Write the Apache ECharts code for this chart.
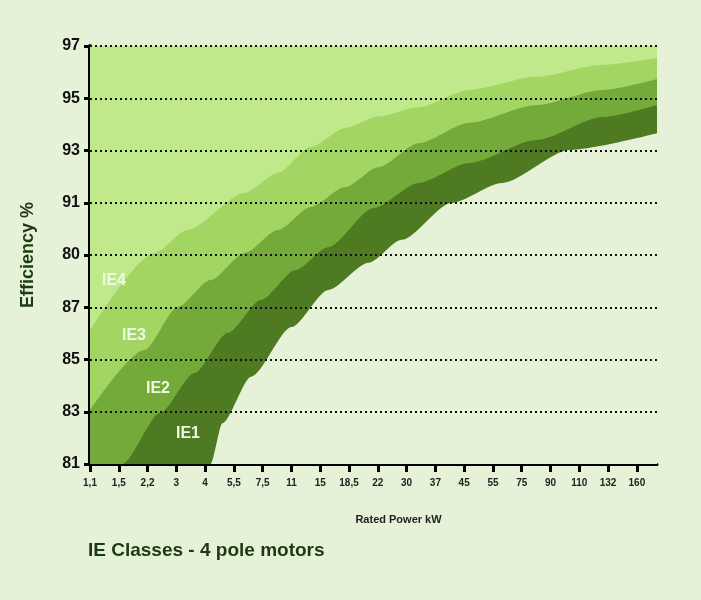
<!DOCTYPE html>
<html>
<head>
<meta charset="utf-8">
<script src="https://cdn.jsdelivr.net/npm/echarts@6/dist/echarts.min.js"></script>
<style>
  html, body { margin: 0; padding: 0; background: #e6f2d8; }
  #chart { width: 701px; height: 600px; }
</style>
</head>
<body>
<div id="chart"></div>
<script>
// x axis categories (index positions), y tick labels (as printed)
var categories = ['1,1', '1,5', '2,2', '3', '4', '5,5', '7,5', '11', '15', '18,5',
  '22', '30', '37', '45', '55', '75', '90', '110', '132', '160'];
var yTicks = ['81', '83', '85', '87', '80', '91', '93', '95', '97'];

// lower edges of each band, [category index, tick index]
var ie4Edge = [[0, 2.56], [2.24, 4.04], [3.39, 4.48], [5.38, 5.19], [6.53, 5.57], [7.68, 6.07],
  [8.87, 6.43], [10.0, 6.65], [11.42, 6.83], [13.17, 7.16], [15.51, 7.41], [17.81, 7.64], [19.7, 7.77]];
var ie3Edge = [[0, 1.03], [1.89, 2.18], [3.04, 3.0], [4.19, 3.52], [5.38, 4.04], [6.53, 4.48],
  [7.68, 4.92], [8.87, 5.3], [10.02, 5.68], [11.42, 6.14], [13.17, 6.53], [15.51, 6.87], [17.81, 7.16], [19.7, 7.37]];
var ie2Edge = [[0, 0], [1.12, 0], [2.44, 0.98], [3.63, 1.74], [4.79, 2.51], [5.94, 3.14], [7.13, 3.71],
  [8.28, 4.15], [9.85, 4.9], [11.42, 5.38], [13.17, 5.76], [15.51, 6.2], [17.81, 6.64], [19.7, 6.87]];
var ie1Edge = [[0, 0], [4.19, 0], [4.6, 0.78], [5.6, 1.67], [7.0, 2.62], [8.28, 3.33], [9.68, 3.85],
  [10.83, 4.29], [12.57, 5.0], [14.32, 5.38], [16.66, 6.01], [19.7, 6.33]];
var topEdge = [[0, 8], [19.7, 8]];

function band(data, color) {
  return {
    type: 'line', data: data, symbol: 'none', smooth: 0.25, smoothMonotone: 'x', silent: true,
    lineStyle: { width: 0 }, areaStyle: { color: color, opacity: 1 }
  };
}

var chart = echarts.init(document.getElementById('chart'));
var gridLines = [];
for (var i = 1; i <= 8; i++) gridLines.push({ yAxis: i });

var last = band(ie1Edge, '#e6f2d8');
last.markLine = {
  silent: true, symbol: 'none', label: { show: false },
  lineStyle: { color: '#111', type: [2, 3], width: 2 },
  data: gridLines
};

function tag(text, x, y, size, color) {
  return {
    type: 'text', left: x, top: y, z: 100,
    style: { text: text, fill: color, fontSize: size, fontWeight: 'bold', fontFamily: 'Liberation Sans' }
  };
}

chart.setOption({
  animation: false,
  backgroundColor: '#e6f2d8',
  grid: { left: 90, top: 46, width: 567, height: 418 },
  xAxis: {
    type: 'value', min: 0, max: 19.7, interval: 1,
    name: 'Rated Power kW', nameLocation: 'middle', nameGap: 50,
    nameTextStyle: { fontFamily: 'Liberation Sans', fontWeight: 'bold', fontSize: 11, color: '#222', padding: [0, 0, 0, 50] },
    axisLine: { lineStyle: { color: '#000', width: 3 } },
    axisTick: { lineStyle: { color: '#000', width: 3 }, length: 8 },
    axisLabel: {
      showMaxLabel: false, margin: 14, fontFamily: 'Liberation Sans', fontWeight: 'bold', fontSize: 10, color: '#222',
      formatter: function (v) { return categories[v] || ''; }
    },
    splitLine: { show: false }
  },
  yAxis: {
    type: 'value', min: 0, max: 8, interval: 1,
    name: 'Efficiency %', nameLocation: 'middle', nameGap: 53, nameRotate: 90,
    nameTextStyle: { fontFamily: 'Liberation Sans', fontWeight: 'bold', fontSize: 18, color: '#1e3a10' },
    axisLine: { show: true, lineStyle: { color: '#000', width: 4 } },
    axisTick: { show: true, lineStyle: { color: '#000', width: 3 }, length: 6 },
    axisLabel: {
      margin: 10, fontFamily: 'Liberation Sans', fontWeight: 'bold', fontSize: 16, color: '#111',
      formatter: function (v) { return yTicks[v]; }
    },
    splitLine: { show: false }
  },
  graphic: [
    tag('IE4', 102, 273, 16, '#f2f8e6'),
    tag('IE3', 122, 328, 16, '#f2f8e6'),
    tag('IE2', 146, 381, 16, '#f2f8e6'),
    tag('IE1', 176, 426, 16, '#f2f8e6'),
    tag('IE Classes - 4 pole motors', 88, 541, 19, '#1e3a10')
  ],
  series: [
    band(topEdge, '#bfe98b'),
    band(ie4Edge, '#a2d562'),
    band(ie3Edge, '#74aa3a'),
    band(ie2Edge, '#4e7a21'),
    last
  ]
});
</script>
</body>
</html>
